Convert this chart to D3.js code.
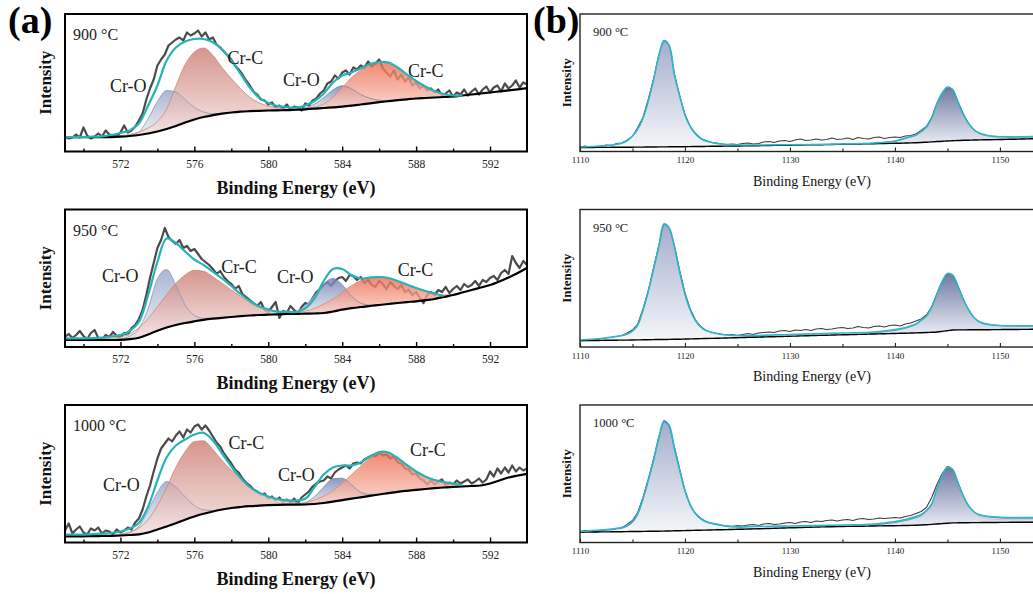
<!DOCTYPE html>
<html>
<head>
<meta charset="utf-8">
<script src="https://cdn.jsdelivr.net/npm/d3@7"></script>
<style>
  html, body { margin: 0; padding: 0; background: #fff; }
  svg { display: block; }
</style>
</head>
<body>
<svg id="chart" width="1033" height="594"></svg>
<script>
// ===================== data =====================
const temperatures = ["900 °C", "950 °C", "1000 °C"];

// Cr 2p region (eV)
const crTicks = [572, 576, 580, 584, 588, 592];
const crMinorTicks = [570, 574, 578, 582, 586, 590];
const crGridFrom = 569, crGridStep = 0.5, crRawStep = 0.2;

// 900 °C — background, envelope, raw counts (arb. units)
const cr900_bg = [14.3,14.3,14.3,14.3,14.3,14.4,14.8,15.5,16.5,18,
  20,22.5,25.5,29,32,34.5,36.3,37.8,39,39.8,
  40.3,40.7,41,41.2,41.4,41.8,42.2,42.8,43.5,44.1,
  44.8,45.8,47,48.2,49.3,50.3,51.3,52.2,53,53.5,
  54,54.5,55,56,57,58,59,60.1,61.2,62.2,63.3];
const cr900_fit = [14.3,14.3,14.5,14.8,15.2,16.5,18.5,21,28,46,
  66,91,104,110,112.5,112.5,109.3,102,91,77.7,
  64,54,48.5,45.5,44.5,43.8,46,50.5,57.7,69,
  76,79,83,87.5,89.5,89,84,77,70.5,65,
  60.5,57.5,56,56.2];
const cr900_raw = [15,13,14,17,14,24,16,13,15,18,
  15,21,17,16,15,19,26,19,21,25,
  31,38,52,63,72,86,92,97,106,109,
  112,114,111,119,116,118,121,115,119,112,
  114,107,104,100,96,92,86,82,77,71,
  66,60,57,52,51,47,49,44,46,43,
  47,42,45,44,41,48,46,51,53,58,
  61,68,70,76,73,79,81,77,84,82,
  86,84,90,85,88,92,83,79,75,81,
  72,77,70,74,66,69,63,66,61,63,
  59,62,56,58,61,55,59,57,62,56,
  60,63,57,62,65,59,64,66,60,68,
  63,66,71,64,69,67];
// components: heights above background, 0.5 eV steps from the start energy
const cr900_O32_from = 572, cr900_O32 = [0,0.5,3,15,30,38.5,34,23,12,5,1.5,0.3,0];
const cr900_C32_from = 571, cr900_C32 = [0,0.5,1,1.5,3,5.5,10,20,40,58,67.5,69,60,46,34,23,14,8,4.5,2.5,1,0.3,0];
const cr900_O12_from = 581, cr900_O12 = [0,0.5,1.5,4.5,10.5,17.5,21,17,10,5,2,0.5,0];
const cr900_C12_from = 581.5, cr900_C12 = [0,0.5,1.5,4,10,19,28,34.5,38.5,40,38.5,32.5,24.5,17,11,6,3,1.2,0.4,0];

// 950 °C
const cr950_bg = [7,7,7,7,7,7,7.1,7.8,9.3,12.5,
  16.3,19.5,22,24,25.7,27.2,28.3,29.2,30,30.8,
  31.5,32,32.3,32.7,33,33.1,33.3,33.5,34,35.5,
  37.3,38.8,40,41,42,43,44,44.9,45.7,46.8,
  48,50,52,54.5,57,59.5,62,65.5,69.5,74,79];
const cr950_fit = [8.7,8.7,8.7,8.8,9.3,10.5,12,16,25,52,
  85,108.5,104,95.5,87.5,82,75.3,68.5,61,53,
  46,40.7,37.5,35.3,35.3,35,38.7,48.7,66,78,
  78,72,68.5,69.5,70,69,66,62.5,59,56,
  53.5,51];
const cr950_raw = [10,13,9,12,16,11,8,14,17,9,
  7,12,10,15,11,9,14,12,19,22,
  28,37,52,69,84,99,107,119,110,106,
  103,107,99,101,96,98,93,88,85,82,
  78,73,76,70,66,63,58,61,53,50,
  47,44,41,45,37,35,40,45,29,36,
  34,41,37,33,40,44,42,49,55,58,
  62,65,61,66,69,70,66,72,71,67,
  70,64,67,62,60,66,63,58,65,61,
  58,62,55,57,52,55,49,44,52,55,
  52,57,55,60,54,58,61,57,63,60,
  62,66,61,67,65,69,71,67,74,77,
  73,91,84,79,86,82];
const cr950_O32_from = 571.5, cr950_O32 = [0,1,3,9,26,52,58,40,18,6,1.5,0.3,0];
const cr950_C32_from = 570, cr950_C32 = [0,0.5,1,2,3,5.5,10,16,24,33,41.7,48,51,48.5,42,34.5,27,20,13,7.8,4.5,2.5,1.2,0.5,0];
const cr950_O12_from = 580.5, cr950_O12 = [0,0.5,2.5,8,18.5,29,33,25,12,4,1,0];
const cr950_C12_from = 581, cr950_C12 = [0,1,2.5,5,9,12.5,17.5,22.5,26.5,28,28,26,22,17.5,13,9,5.5,2,0.5,0];

// 1000 °C
const cr1000_bg = [6,6.1,6.2,6.3,6.5,6.7,7,7.5,8.2,10,
  13,16,19.3,22.8,26,28.7,31,33,34.5,35.5,
  36.3,36.9,37.3,37.6,37.8,37.9,38,38.5,39.5,40.8,
  42.3,43.8,45.2,46.6,48,49.4,50.7,51.7,52.6,53.5,
  54.3,55,55.5,56,56.5,57,59,62,65,67,68.7];
const cr1000_fit = [8,8,8,8.3,8.8,9.5,11,14,19.5,36,
  62,85.3,97,103,108,109.7,102,89,76,64.5,
  55.5,49.7,46,43.5,42.3,42,43.7,55.3,68,75,
  77,77,80,86,90.5,90,84.5,77.5,71,66,
  62.5,60.5,59,57.5];
const cr1000_raw = [12,19,9,13,16,10,8,14,12,15,
  9,12,11,8,13,10,12,15,13,20,
  24,33,46,57,71,84,94,99,104,101,
  107,111,105,113,110,116,118,113,117,112,
  106,100,96,89,84,79,73,70,64,60,
  57,53,51,48,49,44,46,42,45,40,
  43,40,44,39,45,48,51,56,59,61,
  62,66,64,70,73,75,77,74,79,80,
  79,83,85,87,86,90,87,88,84,86,
  80,79,74,73,68,69,64,62,58,62,
  58,61,63,57,60,58,62,59,61,63,
  59,61,64,60,63,71,66,74,69,75,
  70,77,71,75,72,74];
const cr1000_O32_from = 571.5, cr1000_O32 = [0,0.5,2.5,8,22,37,45,36,23,11,4,1,0];
const cr1000_C32_from = 571, cr1000_C32 = [0,0.5,1.5,3,6.5,13,24,39,56,68,75,73,62,49,38,29,19,13,8.5,5.5,3.5,2,1,0.3,0];
const cr1000_O12_from = 581, cr1000_O12 = [0,0.5,2,7.3,16,23,22,14,5,1.5,0.3,0];
const cr1000_C12_from = 581.5, cr1000_C12 = [0,1.5,4,7,11,17,24,31,38,42.5,40,33.5,26,18,12,8,4.5,2.2,1,0];

// Second region (eV)
const hiTicks = [1110, 1120, 1130, 1140, 1150];
const hiMinorTicks = [1115, 1125, 1135, 1145];
const hiGridFrom = 1110, hiGridStep = 0.5;

const hi900_bg = [4.0,4.0,4.0,4.1,4.1,4.1,4.2,4.2,4.2,4.3,
  4.3,4.4,4.4,4.5,4.5,4.6,4.6,4.7,4.7,4.8,
  4.8,4.9,5.0,5.0,5.1,5.2,5.2,5.3,5.4,5.4,
  5.5,5.6,5.7,5.8,5.8,5.9,6.0,6.1,6.1,6.2,
  6.3,6.4,6.5,6.6,6.7,6.8,6.8,6.9,7.0,7.1,
  7.2,7.3,7.4,7.5,7.6,7.7,7.8,7.9,8.0,8.1,
  8.2,8.3,8.5,8.6,8.8,9.0,9.3,9.6,10.0,10.3,
  10.5,10.8,11.0,11.2,11.3,11.5,11.6,11.7,11.8,11.9,
  12.0,12.1,12.2,12.3,12.5,12.6,12.7,12.9,13.0];
const hi900_fit = [[1110,4.5],[1112,5.5],[1113,6.5],[1114,8.5],[1114.5,11],[1115,15.5],[1115.5,22.5],[1116,33.5],
  [1116.5,50.5],[1117,71.5],[1117.5,95.5],[1118,111],[1118.5,106],[1119,76.5],[1119.5,55.5],[1120,36.5],
  [1120.5,25],[1121,17.5],[1121.5,13],[1122,10.5],[1123,8],[1124,7],[1126,6.5],[1130,6.8],[1135,7.5],
  [1138,8.5],[1140,10.5],[1141,13.5],[1142,16.5],[1142.5,20],[1143,24.5],[1143.5,33.5],[1144,48],
  [1144.5,58.5],[1145,64.5],[1145.5,62],[1146,49.5],[1146.5,37.5],[1147,28.5],[1147.5,22],[1148,18.5],
  [1149,15.5],[1150,14.7],[1152,14.5],[1154.2,14.8]];
const hi900_raw = [4.5,5.5,4,5,5.5,6.5,6,8,8.5,11.5,
  15,24,34,52,72,96,111,106,77,55,
  37,25,18,13,11,9,8.5,7.5,7,7.5,
  7,8,8.5,7.5,8,9.5,10,9,10.5,11,
  10,11.5,12.5,11,11.5,12.5,11.5,12,13.5,12,
  12.5,13.5,12,14,13,12.5,14,14.5,13,14,
  14.5,14,15.5,16,17.5,21,25,34,48,58,
  64,62,50,38,28,22,18,16,15.5,14.5,
  15,14,14.5,13.5,14,14.5,13.5,14,15];
const hi900_P1_from = 1111.5, hi900_P1 = [0,1,1.5,2,3,4,6.5,11,18,29,46,67,91,106,101,72,51,32,20,12.5,8,5.5,4,3,2,1.5,1,0.5,0];
const hi900_P2_from = 1138.5, hi900_P2 = [0,1,1.5,2,3,4.5,6,7.5,11,15,24,38,48,53.7,51,38.5,26,17,10.5,7,5.5,4,3.5,3,3,2.5,2.5,2.5,2.5,2.5,2.5,2.5];

const hi950_bg = [6.3,6.4,6.4,6.5,6.6,6.7,6.7,6.8,6.9,6.9,
  7.0,7.1,7.2,7.3,7.4,7.5,7.5,7.6,7.7,7.8,
  8.0,8.1,8.2,8.4,8.5,8.6,8.7,8.9,9.0,9.2,
  9.3,9.4,9.6,9.7,9.9,10.0,10.2,10.3,10.5,10.6,
  10.8,10.9,11.1,11.2,11.4,11.5,11.7,11.8,12.0,12.1,
  12.2,12.3,12.5,12.6,12.7,12.9,13.0,13.1,13.3,13.4,
  13.5,13.7,13.8,14.0,14.1,14.3,14.5,14.7,15.0,15.6,
  16.3,17.0,17.1,17.1,17.2,17.2,17.3,17.3,17.3,17.4,
  17.4,17.5,17.5,17.5,17.6,17.6,17.7,17.7,17.8];
const hi950_fit = [[1110,7],[1112,8.5],[1113,10],[1114,11.5],[1114.5,13],[1115,16],[1115.5,22],[1116,37],
  [1116.5,55.5],[1117,78],[1117.5,100],[1118,123],[1118.5,119],[1119,100],[1119.5,75],[1120,53],
  [1120.5,37],[1121,26.5],[1121.5,20],[1122,16.5],[1123,13.5],[1124,12],[1126,11.5],[1130,12.5],
  [1135,14],[1138,15],[1140,17.5],[1141,19.5],[1142,23],[1142.5,27],[1143,31],[1143.5,40],[1144,53],
  [1144.5,65.5],[1145,73.5],[1145.5,72],[1146,61],[1146.5,48],[1147,37.5],[1147.5,30],[1148,25.5],
  [1149,22.5],[1150,21.5],[1152,21.3],[1154.2,21]];
const hi950_raw = [7,6.5,7.5,7.5,7,8,8.5,9.5,11.5,14,
  17,23,38,56,79,101,123,119,101,76,
  54,38,27,20.5,16.5,14,13.5,12.5,12,12.5,
  11.5,12.5,13.5,12.5,14,14.5,15,14.5,16,16.5,
  15.5,17,16.5,17.5,16.5,18,18.5,17.5,18,19,
  19.5,18.5,19,20.5,19.5,19,20.5,21,20,21.5,
  22,21,23,24,26,28,32,40,53,65,
  73,72,61,48,37,29.5,25,22.5,21.5,21,
  21,20.5,21.5,21,20.5,21,21.5,20.5,21];
const hi950_P1_from = 1111.5, hi950_P1 = [0,1.5,2.2,3,3.8,4.5,6,9,15,29.5,48,70,92,115,111,92,67,45,29,18,11.5,8,6.5,5,4,3,2.5,2,1.5,1,0.5,0.3,0];
const hi950_P2_from = 1137.5, hi950_P2 = [0,1,1.5,2,2.5,3,4,5,6.5,8.5,12,16,25,38,50,57,55,44,31,20.5,13,8,6,5,4.5,4,3.8,3.6,3.5,3.4,3.3,3.2,3.1,3.0];

const hi1000_bg = [10.3,10.4,10.4,10.5,10.6,10.6,10.7,10.8,10.8,10.9,
  11.0,11.0,11.1,11.2,11.2,11.3,11.4,11.5,11.7,11.8,
  11.9,12.0,12.2,12.3,12.4,12.5,12.7,12.8,12.9,13.0,
  13.2,13.3,13.4,13.6,13.7,13.9,14.0,14.2,14.4,14.5,
  14.7,14.8,15.0,15.2,15.3,15.5,15.6,15.7,15.8,15.9,
  16.0,16.1,16.2,16.2,16.3,16.4,16.5,16.6,16.7,16.8,
  16.8,16.9,17.0,17.1,17.3,17.5,17.8,18.1,18.5,18.9,
  19.3,19.6,19.7,19.8,19.8,19.9,19.9,20.0,20.0,20.0,
  20.1,20.1,20.2,20.2,20.2,20.3,20.3,20.3,20.4];
const hi1000_fit = [[1110,11],[1112,12.5],[1113,13.5],[1114,15],[1114.5,17],[1115,21],[1115.5,29],[1116,44],
  [1116.5,62.5],[1117,82.5],[1117.5,104.5],[1118,121.5],[1118.5,117],[1119,94],[1119.5,72.5],[1120,52],
  [1120.5,38],[1121,29],[1121.5,24],[1122,21],[1123,18.5],[1124,16.5],[1126,16],[1130,16.5],[1135,17.5],
  [1138,18.5],[1140,21],[1141,23],[1142,26],[1142.5,28],[1143,32],[1143.5,38.5],[1144,54],[1144.5,67],
  [1145,75.5],[1145.5,73],[1146,60],[1146.5,47],[1147,37],[1147.5,31],[1148,28],[1149,26],[1150,25.3],
  [1152,25],[1154.2,25]];
const hi1000_raw = [11,12,11.5,10.5,12,13,12.5,13.5,15,18,
  22,30,45,63,83,105,122,117,95,73,
  52,36,29,24,21,18.5,18,17,16.5,16,
  17,16.5,17.5,18,17,18.5,19,18,18.5,19.5,
  20,19,20.5,21,20,21.5,21,22,22.5,21.5,
  22.5,23,22,23.5,24,23,23.5,24.5,24,24.5,
  25,24.5,26,27,29,31,35,45,58,69,
  76,73,60,46,36,30,26.5,24.5,23.5,23,
  23,22.5,23.5,23,22.5,23,23.5,22.5,23];
const hi1000_P1_from = 1111.5, hi1000_P1 = [0,1,1.5,2,2.8,3.5,5.5,9,17,31.7,50,70,92,109,104,81.5,60,39,25,16,11,8,6.5,5,4,3,2.5,2,1.5,1,0.5,0.3,0];
const hi1000_P2_from = 1137.5, hi1000_P2 = [0,1,1.5,2,2.5,3,4,5,6,7.5,9.5,13.5,20,35,48,55.7,53,40,27,17,11,8,6.5,5.5,5,4.5,4.3,4.2,4.1,4,4,4,4,4];

// ===================== layout & style =====================
const serif = '"Liberation Serif", "Times New Roman", serif';
const rowTops = [14, 209.5, 405];
const rowH = 137.5;
const yMax = 137.5;

const svg = d3.select("#chart");
const defs = svg.append("defs");

const peakStyles = {
  O32: { top: "#94a1c7", bottom: "#eceff6", line: "#8c96b8", opacity: 0.78 },
  C32: { top: "#cb7b71", bottom: "#f7e4e0", line: "#c68a81", opacity: 0.8 },
  O12: { top: "#6f7fb0", bottom: "#dfe4f0", line: "#7a86ad", opacity: 0.8 },
  C12: { top: "#ee6b50", bottom: "#f9d0c5", line: "#e08672", opacity: 0.8 },
  P1:  { top: "#9aa5c6", bottom: "#f3f5f9", line: "#4f86ad", opacity: 0.9 },
  P2:  { top: "#5e6c98", bottom: "#e6e9f2", line: "#4f83aa", opacity: 0.9 }
};
Object.entries(peakStyles).forEach(([k, s]) => {
  const lg = defs.append("linearGradient").attr("id", "grad-" + k)
    .attr("x1", 0).attr("y1", 0).attr("x2", 0).attr("y2", 1);
  lg.append("stop").attr("offset", "0%").attr("stop-color", s.top);
  lg.append("stop").attr("offset", "100%").attr("stop-color", s.bottom);
});

const gridPoints = (from, step, values) => values.map((v, i) => [from + i * step, v]);

let clipCount = 0;

function drawPanel(p) {
  const top = p.top, bottom = p.top + rowH;
  const x = p.x;
  const [left, right] = x.range();
  const y = d3.scaleLinear().domain([0, yMax]).range([bottom, top]);
  const g = svg.append("g");

  const clipId = "clip" + (clipCount++);
  g.append("clipPath").attr("id", clipId)
    .append("rect").attr("x", left).attr("y", top).attr("width", right - left).attr("height", rowH);
  const plot = g.append("g").attr("clip-path", `url(#${clipId})`);

  const bgAt = e => p.bg[Math.round((e - p.gridFrom) / p.gridStep)];

  // measured spectrum
  const rawPts = gridPoints(p.gridFrom, p.rawStep, p.raw);
  plot.append("path").datum(rawPts)
    .attr("fill", "none").attr("stroke", p.rawColor).attr("stroke-width", p.rawWidth)
    .attr("stroke-linejoin", "round")
    .attr("d", d3.line().x(d => x(d[0])).y(d => y(d[1])));

  // fitted components stacked on the background
  const comps = p.peaks.map(([kind, from, h]) =>
    ({ kind, pts: gridPoints(from, p.gridStep, h).map(([e, v]) => ({ e, b: bgAt(e), v: bgAt(e) + v })) }));
  const area = d3.area().x(d => x(d.e)).y0(d => y(d.b)).y1(d => y(d.v)).curve(d3.curveMonotoneX);
  const edge = d3.line().x(d => x(d.e)).y(d => y(d.v)).curve(d3.curveMonotoneX);
  comps.forEach(c => {
    plot.append("path").datum(c.pts)
      .attr("fill", `url(#grad-${c.kind})`).attr("fill-opacity", peakStyles[c.kind].opacity)
      .attr("stroke", "none").attr("d", area);
  });
  comps.forEach(c => {
    plot.append("path").datum(c.pts)
      .attr("fill", "none").attr("stroke", peakStyles[c.kind].line)
      .attr("stroke-width", p.edgeWidth).attr("stroke-opacity", 0.9).attr("d", edge);
  });

  // background
  const bgPts = gridPoints(p.gridFrom, p.gridStep, p.bg);
  plot.append("path").datum(bgPts)
    .attr("fill", "none").attr("stroke", "#000").attr("stroke-width", p.bgWidth)
    .attr("d", d3.line().x(d => x(d[0])).y(d => y(d[1])).curve(d3.curveMonotoneX));

  // envelope
  plot.append("path").datum(p.fit)
    .attr("fill", "none").attr("stroke", p.fitColor).attr("stroke-width", p.fitWidth)
    .attr("stroke-linejoin", "round")
    .attr("d", d3.line().x(d => x(d[0])).y(d => y(d[1])).curve(d3.curveCatmullRom.alpha(0.5)));

  // frame
  g.append("rect").attr("x", left).attr("y", top).attr("width", right - left).attr("height", rowH)
    .attr("fill", "none").attr("stroke", p.frameColor).attr("stroke-width", p.frameWidth);

  // ticks (inward)
  const major = g.append("g").attr("transform", `translate(0,${bottom})`)
    .call(d3.axisBottom(x).tickValues(p.ticks).tickSize(-p.tickLen).tickPadding(p.tickPad).tickFormat(d3.format("d")));
  major.select(".domain").remove();
  major.attr("font-family", serif).attr("font-size", p.tickFont);
  major.selectAll("line").attr("stroke", p.frameColor).attr("stroke-width", p.tickWidth);
  major.selectAll("text").attr("fill", "#222");
  const minor = g.append("g").attr("transform", `translate(0,${bottom})`)
    .call(d3.axisBottom(x).tickValues(p.minorTicks).tickSize(-p.minorLen).tickFormat(""));
  minor.select(".domain").remove();
  minor.selectAll("line").attr("stroke", p.frameColor).attr("stroke-width", p.tickWidth);

  // axis titles
  g.append("text").attr("x", (left + right) / 2).attr("y", bottom + p.titleGap)
    .attr("text-anchor", "middle").attr("font-family", serif).attr("font-size", p.titleFont)
    .attr("font-weight", p.titleWeight).attr("fill", "#111").text("Binding Energy (eV)");
  g.append("text").attr("transform", `translate(${p.yTitleX},${top + rowH / 2}) rotate(-90)`)
    .attr("text-anchor", "middle").attr("font-family", serif).attr("font-size", p.yTitleFont)
    .attr("font-weight", "bold").attr("fill", "#111").text("Intensity");

  // temperature
  g.append("text").attr("x", left + p.tempDx).attr("y", top + p.tempDy)
    .attr("font-family", serif).attr("font-size", p.tempFont).attr("fill", "#222").text(p.temp);

  // component labels
  (p.notes || []).forEach(([t, e, v]) => {
    g.append("text").attr("x", x(e)).attr("y", y(v))
      .attr("font-family", serif).attr("font-size", 18).attr("fill", "#222").text(t);
  });
}

// ---------- panel (a): Cr 2p ----------
const xCr = d3.scaleLinear().domain([569, 594]).range([65, 527]);
const crSets = [
  { bg: cr900_bg, fit: cr900_fit, raw: cr900_raw,
    peaks: [["O32", cr900_O32_from, cr900_O32], ["C32", cr900_C32_from, cr900_C32],
            ["O12", cr900_O12_from, cr900_O12], ["C12", cr900_C12_from, cr900_C12]] },
  { bg: cr950_bg, fit: cr950_fit, raw: cr950_raw,
    peaks: [["O32", cr950_O32_from, cr950_O32], ["C32", cr950_C32_from, cr950_C32],
            ["O12", cr950_O12_from, cr950_O12], ["C12", cr950_C12_from, cr950_C12]] },
  { bg: cr1000_bg, fit: cr1000_fit, raw: cr1000_raw,
    peaks: [["O32", cr1000_O32_from, cr1000_O32], ["C32", cr1000_C32_from, cr1000_C32],
            ["O12", cr1000_O12_from, cr1000_O12], ["C12", cr1000_C12_from, cr1000_C12]] }
];
// label anchors in (eV, intensity)
const crNotes = [
  [["Cr-O", 571.43, 60], ["Cr-C", 577.8, 88], ["Cr-O", 580.8, 66], ["Cr-C", 587.56, 75]],
  [["Cr-O", 571.0, 65], ["Cr-C", 577.45, 74], ["Cr-O", 580.47, 64], ["Cr-C", 587.0, 71]],
  [["Cr-O", 571.06, 52], ["Cr-C", 577.85, 94], ["Cr-O", 580.53, 62], ["Cr-C", 587.67, 87]]
];
crSets.forEach((s, i) => drawPanel({
  top: rowTops[i], x: xCr, gridFrom: crGridFrom, gridStep: crGridStep, rawStep: crRawStep,
  bg: s.bg, fit: gridPoints(crGridFrom, crGridStep, s.fit), raw: s.raw, peaks: s.peaks,
  rawColor: "#4b4b4b", rawWidth: 2.2, fitColor: "#24b4b8", fitWidth: 2.2, bgWidth: 2.2, edgeWidth: 0.9,
  frameColor: "#000", frameWidth: 2, ticks: crTicks, minorTicks: crMinorTicks,
  tickLen: 5, minorLen: 3, tickWidth: 1.4, tickPad: 8, tickFont: 11.5,
  titleGap: 42, titleFont: 18, titleWeight: "bold", yTitleX: 51, yTitleFont: 17,
  temp: temperatures[i], tempDx: 8, tempDy: 26, tempFont: 16, notes: crNotes[i]
}));

// ---------- panel (b) ----------
const xHi = d3.scaleLinear().domain([1110, 1154.2]).range([580, 1044]);
const hiSets = [
  { bg: hi900_bg, fit: hi900_fit, raw: hi900_raw,
    peaks: [["P1", hi900_P1_from, hi900_P1], ["P2", hi900_P2_from, hi900_P2]] },
  { bg: hi950_bg, fit: hi950_fit, raw: hi950_raw,
    peaks: [["P1", hi950_P1_from, hi950_P1], ["P2", hi950_P2_from, hi950_P2]] },
  { bg: hi1000_bg, fit: hi1000_fit, raw: hi1000_raw,
    peaks: [["P1", hi1000_P1_from, hi1000_P1], ["P2", hi1000_P2_from, hi1000_P2]] }
];
hiSets.forEach((s, i) => drawPanel({
  top: rowTops[i], x: xHi, gridFrom: hiGridFrom, gridStep: hiGridStep, rawStep: hiGridStep,
  bg: s.bg, fit: s.fit, raw: s.raw, peaks: s.peaks,
  rawColor: "#3c3c3c", rawWidth: 1.1, fitColor: "#2fb6c8", fitWidth: 1.6, bgWidth: 1.4, edgeWidth: 1,
  frameColor: "#222", frameWidth: 1.4, ticks: hiTicks, minorTicks: hiMinorTicks,
  tickLen: 4, minorLen: 3, tickWidth: 1.1, tickPad: 5.2, tickFont: 9,
  titleGap: 34, titleFont: 14, titleWeight: "normal", yTitleX: 571, yTitleFont: 13,
  temp: temperatures[i], tempDx: 13, tempDy: 22, tempFont: 12.5, notes: []
}));

// panel letters
svg.append("text").attr("x", 8).attr("y", 33).attr("font-family", serif)
  .attr("font-size", 38).attr("font-weight", "bold").attr("fill", "#000").text("(a)");
svg.append("text").attr("x", 533).attr("y", 33).attr("font-family", serif)
  .attr("font-size", 38).attr("font-weight", "bold").attr("fill", "#000").text("(b)");
</script>
</body>
</html>
